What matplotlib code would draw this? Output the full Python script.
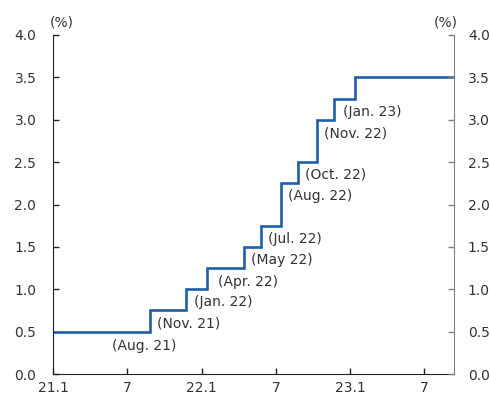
import matplotlib
matplotlib.use('Agg')
import matplotlib.pyplot as plt

# base rate decisions: (year, month, day) and new level (%)
dates = [(2021, 1, 1), (2021, 8, 26), (2021, 11, 25), (2022, 1, 14), (2022, 4, 14),
         (2022, 5, 26), (2022, 7, 13), (2022, 8, 25), (2022, 10, 12), (2022, 11, 24),
         (2023, 1, 13)]
rates = [0.5, 0.75, 1.0, 1.25, 1.5, 1.75, 2.25, 2.5, 3.0, 3.25, 3.5]
labels = ['', '(Aug. 21)', '(Nov. 21)', '(Jan. 22)', '(Apr. 22)', '(May 22)',
          '(Jul. 22)', '(Aug. 22)', '(Oct. 22)', '(Nov. 22)', '(Jan. 23)']
xtick_labels = ['21.1', '7', '22.1', '7', '23.1', '7']
yticks = [0.0, 0.5, 1.0, 1.5, 2.0, 2.5, 3.0, 3.5, 4.0]
x_end = 32.4  # months from Jan 2021


def to_month(d):
    y, m, day = d
    return (y - 2021) * 12 + (m - 1) + (day - 1) / 31


xs = [to_month(d) for d in dates] + [x_end]
ys = rates + [rates[-1]]

# label placement (month, value), left-aligned
label_pos = [None, (4.8, 0.33), (8.4, 0.60), (11.4, 0.85), (13.3, 1.09), (16.0, 1.35),
             (17.4, 1.59), (19.0, 2.10), (20.4, 2.35), (21.9, 2.84), (23.4, 3.09)]

txt = '#333333'
fig = plt.figure(figsize=(4.9, 3.97), dpi=100)
ax = fig.add_axes([53 / 490, 23 / 397, 401 / 490, 339 / 397])
ax.step(xs, ys, where='post', color='#1f5fa8', lw=1.9, solid_joinstyle='miter')

for lab, pos in zip(labels, label_pos):
    if pos is None:
        continue
    ax.text(pos[0], pos[1], lab, fontsize=10, color=txt, va='center', ha='left')

ax.set_xlim(0, x_end)
ax.set_ylim(0, 4)
ax.set_xticks([0, 6, 12, 18, 24, 30])
ax.set_xticklabels(xtick_labels)
ax.set_yticks(yticks)
ax.set_yticklabels(['%.1f' % v for v in yticks])
ax.tick_params(axis='both', direction='in', length=4, width=1, labelsize=10,
               labelcolor=txt, color='#222222')
ax.tick_params(axis='y', pad=12)
ax.tick_params(axis='x', pad=5)
for s in ['top', 'right']:
    ax.spines[s].set_visible(False)
ax.spines['left'].set_color('#222222')
ax.spines['bottom'].set_color('#222222')

ax2 = ax.twinx()
ax2.set_ylim(0, 4)
ax2.set_yticks(yticks)
ax2.set_yticklabels(['%.1f' % v for v in yticks])
ax2.tick_params(axis='y', direction='in', length=4, width=1, labelsize=10,
                labelcolor=txt, color='#808080', pad=10)
for s in ['top', 'left', 'bottom']:
    ax2.spines[s].set_visible(False)
ax2.spines['right'].set_color('#808080')

fig.text(62 / 490, 1 - 22 / 397, '(%)', fontsize=10, color=txt, ha='center', va='center')
fig.text(446 / 490, 1 - 22 / 397, '(%)', fontsize=10, color=txt, ha='center', va='center')

fig.savefig('out.png', dpi=100)
